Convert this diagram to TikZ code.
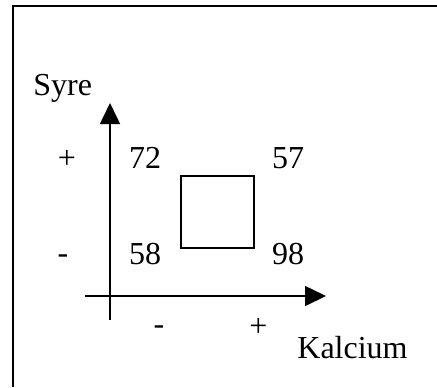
\documentclass[tikz,border=0pt]{standalone}
\usepackage{fontspec}
\setmainfont{Liberation Serif}
\usetikzlibrary{arrows.meta, positioning}
\tikzset{
  axis/.style={-{Triangle[length=10.5pt, width=10pt]}, line width=0.8pt},
  frameline/.style={line width=1.2pt},
  txt/.style={font=\fontsize{16}{19}\selectfont, inner sep=0pt},
  val/.style={txt, anchor=center},
  sign/.style={txt, anchor=center},
}
\begin{document}
\begin{tikzpicture}[x=0.5pt, y=-0.5pt]
\useasboundingbox (0,0) rectangle (437,387);

%% ---- FRAME ----
\draw[frameline] (13,387) -- (13,6) -- (437,6);

%% ---- AXES ----
\coordinate (ybot) at (110,320);
\coordinate (ytop) at (110,103);
\coordinate (xleft) at (85,296);
\coordinate (xright) at (326,296);
\draw[axis] (ybot) -- (ytop);
\draw[axis] (xleft) -- (xright);

\node[txt, anchor=base west] (syre) at (33,95) {Syre};
\node[txt, anchor=base west] (kalc) at (297,358) {Kalcium};

%% ---- SIGNS ----
\node[sign] (yplus)  at (67,159) {+};
\node[sign] (yminus) at (63,259) {-};
\node[sign] (xminus) at (159,330) {-};
\node[sign] (xplus)  at (258.5,327) {+};

%% ---- VALUES ----
\node[val] (v72) at (145,158) {72};
\node[val] (v57) at (288,158) {57};
\node[val] (v58) at (145,254) {58};
\node[val] (v98) at (288,254) {98};

\node[draw, line width=0.8pt, minimum width=36.5pt, minimum height=36pt,
      inner sep=0pt] (sq) at (217.5,212) {};

\end{tikzpicture}
\end{document}
